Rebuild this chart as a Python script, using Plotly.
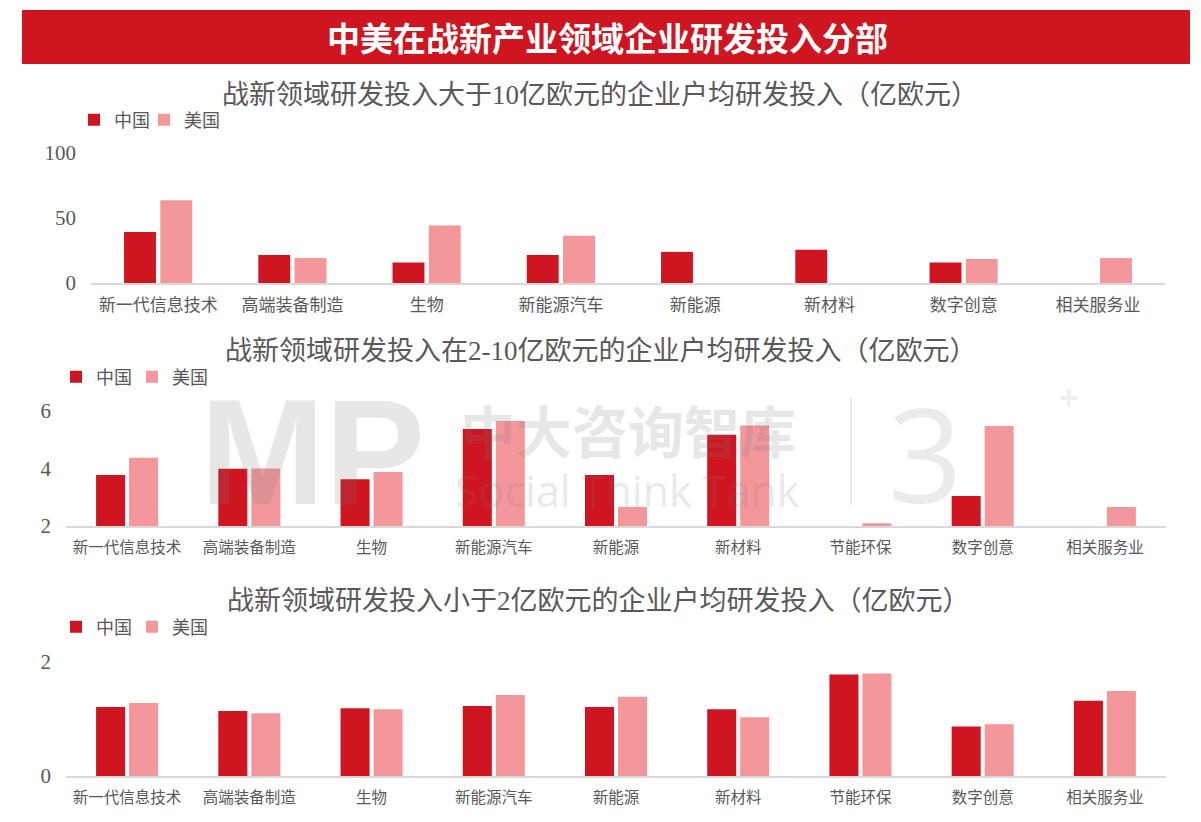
import plotly.graph_objects as go

W, H = 1201, 822

def px(x):
    return x / W

def py(y):
    return 1 - y / H

# ---------------- data ----------------
cats1 = ["新一代信息技术", "高端装备制造", "生物", "新能源汽车", "新能源", "新材料", "数字创意", "相关服务业"]
cn1 = [39.2, 21.6, 15.8, 21.6, 23.9, 25.5, 15.8, None]
us1 = [63.6, 19.2, 44.2, 36.4, None, None, 18.4, 19.2]

cats2 = ["新一代信息技术", "高端装备制造", "生物", "新能源汽车", "新能源", "新材料", "节能环保", "数字创意", "相关服务业"]
cn2 = [3.77, 3.99, 3.63, 5.37, 3.77, 5.17, None, 3.04, None]
us2 = [4.37, 4.00, 3.88, 5.65, 2.66, 5.50, 2.10, 5.48, 2.66]

cats3 = cats2
cn3 = [1.21, 1.14, 1.19, 1.23, 1.21, 1.17, 1.78, 0.87, 1.32]
us3 = [1.28, 1.10, 1.17, 1.42, 1.39, 1.03, 1.80, 0.91, 1.49]

series_names = ["中国", "美国"]
y1_ticks = [0, 50, 100]
y2_ticks = [2, 4, 6]
y3_ticks = [0, 2]

RED = "#CF1520"
PINK = "#F4979B"
GRAY = "#595959"
SERIF = "Liberation Serif, Noto Sans CJK SC"
CJK = "Noto Sans CJK SC"

fig = go.Figure()

panels = [
    (cats1, cn1, us1, "x", "y", "legend", "legend2"),
    (cats2, cn2, us2, "x2", "y2", "legend3", "legend4"),
    (cats3, cn3, us3, "x3", "y3", "legend5", "legend6"),
]
for cats, cn, us, xa, ya, lg_cn, lg_us in panels:
    fig.add_trace(go.Bar(x=cats, y=cn, name=series_names[0], marker_color=RED,
                         xaxis=xa, yaxis=ya, legend=lg_cn, showlegend=True))
    fig.add_trace(go.Bar(x=cats, y=us, name=series_names[1], marker_color=PINK,
                         xaxis=xa, yaxis=ya, legend=lg_us, showlegend=True))

xcommon = dict(showline=True, linecolor="#D9D9D9", linewidth=2, showgrid=False,
               ticks="", zeroline=False, ticklabelstandoff=6, fixedrange=True,
               automargin=False)
ycommon = dict(showline=False, showgrid=False, zeroline=False, ticks="",
               tickfont=dict(family="Liberation Serif", size=21, color=GRAY),
               ticklabelstandoff=14, fixedrange=True, automargin=False)

fig.update_layout(
    template="none",
    showlegend=True,
    width=W, height=H, autosize=False,
    margin=dict(l=0, r=0, t=0, b=0, pad=0),
    paper_bgcolor="white", plot_bgcolor="white",
    barmode="group", bargap=0.46, bargroupgap=0.12,
    xaxis=dict(**xcommon, domain=[px(91), px(1165)], anchor="y",
               tickfont=dict(family=CJK, size=17, color=GRAY)),
    yaxis=dict(**ycommon, domain=[py(283), py(153)], anchor="x",
               range=[0, 100], tickvals=y1_ticks),
    xaxis2=dict(**xcommon, domain=[px(66), px(1166)], anchor="y2",
                tickfont=dict(family=CJK, size=15.5, color=GRAY)),
    yaxis2=dict(**ycommon, domain=[py(526), py(411)], anchor="x2",
                range=[2, 6], tickvals=y2_ticks),
    xaxis3=dict(**xcommon, domain=[px(66), px(1166)], anchor="y3",
                tickfont=dict(family=CJK, size=15.5, color=GRAY)),
    yaxis3=dict(**ycommon, domain=[py(776), py(662)], anchor="x3",
                range=[0, 2], tickvals=y3_ticks),
)

legcommon = dict(orientation="h", xanchor="left", yanchor="middle",
                 font=dict(family=CJK, size=18, color=GRAY),
                 bgcolor="rgba(0,0,0,0)", itemwidth=30,
                 itemclick=False, itemdoubleclick=False)
fig.update_layout(
    legend=dict(**legcommon, x=px(74), y=py(120)),
    legend2=dict(**legcommon, x=px(144), y=py(120)),
    legend3=dict(**legcommon, x=px(56), y=py(377)),
    legend4=dict(**legcommon, x=px(132), y=py(377)),
    legend5=dict(**legcommon, x=px(56), y=py(627)),
    legend6=dict(**legcommon, x=px(132), y=py(627)),
)

# banner
fig.add_shape(type="rect", xref="paper", yref="paper",
              x0=px(22), x1=px(1190), y0=py(64), y1=py(10),
              fillcolor=RED, line=dict(width=0), layer="below")

annotations = [
    dict(text="<b>中美在战新产业领域企业研发投入分部</b>", x=px(607), y=py(37),
         font=dict(family=CJK, size=33, color="white")),
    dict(text="战新领域研发投入大于10亿欧元的企业户均研发投入（亿欧元）", x=px(600), y=py(95),
         font=dict(family=SERIF, size=27, color=GRAY)),
    dict(text="战新领域研发投入在2-10亿欧元的企业户均研发投入（亿欧元）", x=px(601), y=py(351),
         font=dict(family=SERIF, size=27, color=GRAY)),
    dict(text="战新领域研发投入小于2亿欧元的企业户均研发投入（亿欧元）", x=px(598), y=py(601),
         font=dict(family=SERIF, size=27, color=GRAY)),
    # watermark
    dict(text="<b>MP</b>", x=px(312), y=py(452),
         font=dict(family="Liberation Sans", size=150, color="rgba(120,120,120,0.18)")),
    dict(text="<b>中大咨询智库</b>", x=px(628), y=py(428),
         font=dict(family=CJK, size=56, color="rgba(120,120,120,0.18)")),
    dict(text="Social Think Tank", x=px(627), y=py(490),
         font=dict(family="Open Sans", size=43, color="rgba(120,120,120,0.18)")),
    dict(text="3", x=px(925), y=py(452),
         font=dict(family="Open Sans", size=130, color="rgba(120,120,120,0.15)")),
    dict(text="<b>+</b>", x=px(1068), y=py(397),
         font=dict(family="Open Sans", size=34, color="rgba(120,120,120,0.15)")),
]
for a in annotations:
    a.update(xref="paper", yref="paper", showarrow=False, xanchor="center", yanchor="middle")
    fig.add_annotation(**a)

fig.add_shape(type="line", xref="paper", yref="paper",
              x0=px(851), x1=px(851), y0=py(505), y1=py(398),
              line=dict(color="rgba(120,120,120,0.18)", width=2))

fig.write_html("out.html", config={"displayModeBar": False},
               post_script="document.body.style.margin='0';document.body.style.overflow='hidden';")
